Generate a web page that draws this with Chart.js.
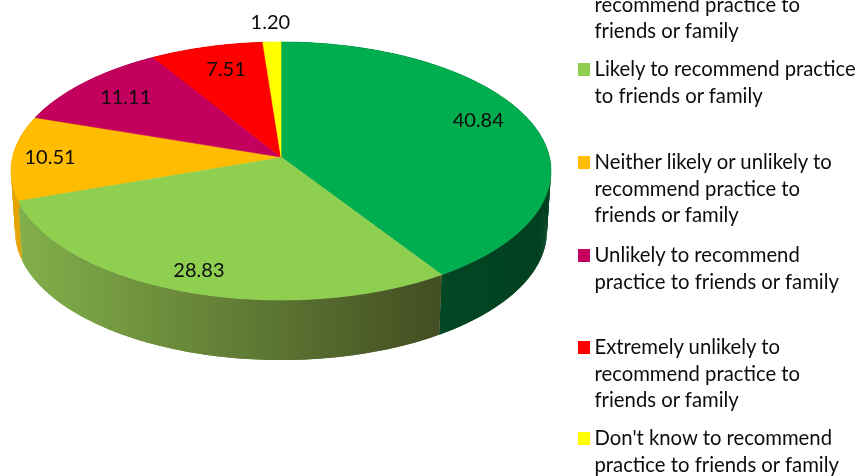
<!DOCTYPE html>
<html>
<head>
<meta charset="utf-8">
<script src="https://cdn.jsdelivr.net/npm/chart.js@4"></script>
<style>
html, body { margin: 0; padding: 0; background: #fff; overflow: hidden; }
#wrap { position: relative; width: 861px; height: 476px; overflow: hidden; }
#pie { position: absolute; left: 0; top: 0; }
.item { position: absolute; left: 594.5px; font: 20.3px/26.5px Lato, sans-serif; color: #0c0c0c; white-space: pre; }
.item i { position: absolute; left: -16.5px; top: 8px; width: 12px; height: 13px; }
</style>
</head>
<body>
<div id="wrap"><canvas id="pie" width="861" height="476"></canvas></div>
<script>
"use strict";

var categories = [
	"Extremely likely to\nrecommend practice to\nfriends or family",
	"Likely to recommend practice\nto friends or family",
	"Neither likely or unlikely to\nrecommend practice to\nfriends or family",
	"Unlikely to recommend\npractice to friends or family",
	"Extremely unlikely to\nrecommend practice to\nfriends or family",
	"Don't know to recommend\npractice to friends or family"
];
var values = [40.84, 28.83, 10.51, 11.11, 7.51, 1.20];
var sliceColors = ["#00AD4F", "#8FCF50", "#FFBC00", "#C4005F", "#FF0000", "#FFFF00"];
var sideColors = [["#01522c", "#01401f"], ["#82b04a", "#434d22"], ["#e6a400", "#d89a00"], ["#70003a", "#70003a"], ["#900000", "#900000"], ["#909000", "#909000"]];
var labelReach = [0.785, 0.86, 0.86, 0.78, 0.76, 1.19];
var labelNudge = [[0, -9], [0, 0], [0, 0], [0, 0], [3, -2], [0, 0]];
var legendTops = [-36, 55, 148, 241, 333, 424];

// excel tilts the pie so the apex is not the ellipse centre, canvas transforms cant do that
var KX = 268.4 / 270, KY = 127.5 / 270, TILT = -0.1085;
var DEPTH = 60, SHRINK = 0.985;

function project(el, angle, reach) {
	var u = Math.cos(angle) * reach, v = Math.sin(angle) * reach;
	var w = 1 + TILT * v;
	return { x: el.x + el.outerRadius * KX * u / w, y: el.y + el.outerRadius * KY * v / w };
}

function rim(el) {
	var pts = [];
	var n = Math.max(2, Math.ceil((el.endAngle - el.startAngle) / 0.01));
	for (var i = 0; i <= n; i++) {
		pts.push(project(el, el.startAngle + (el.endAngle - el.startAngle) * i / n, 1));
	}
	return pts;
}

var pie3d = {
	id: "pie3d",
	beforeDatasetDraw: function(chart, args) {
		var ctx = chart.ctx;
		var arcs = args.meta.data;
		// side walls first, the top faces cover the back part
		arcs.forEach(function(el, i) {
			var pts = rim(el);
			var xs = pts.map(function(p) { return p.x; });
			var grad = ctx.createLinearGradient(Math.min.apply(null, xs), 0, Math.max.apply(null, xs), 0);
			grad.addColorStop(0, sideColors[i][0]);
			grad.addColorStop(1, sideColors[i][1]);
			ctx.fillStyle = grad;
			// one quad per rim step, a single outline would lose the corner at the widest point
			for (var k = 0; k < pts.length - 1; k++) {
				var a = pts[k], b = pts[Math.min(k + 2, pts.length - 1)];
				ctx.beginPath();
				ctx.moveTo(a.x, a.y);
				ctx.lineTo(b.x, b.y);
				ctx.lineTo(el.x + (b.x - el.x) * SHRINK, b.y + DEPTH);
				ctx.lineTo(el.x + (a.x - el.x) * SHRINK, a.y + DEPTH);
				ctx.closePath();
				ctx.fill();
			}
		});
		arcs.forEach(function(el, i) {
			ctx.beginPath();
			ctx.moveTo(el.x, el.y);
			rim(el).forEach(function(p) { ctx.lineTo(p.x, p.y); });
			ctx.closePath();
			ctx.fillStyle = sliceColors[i];
			ctx.strokeStyle = sliceColors[i];
			ctx.lineWidth = 0.6;
			ctx.fill();
			ctx.stroke();
		});
		return false;
	},
	afterDatasetsDraw: function(chart) {
		var ctx = chart.ctx;
		ctx.save();
		ctx.font = "20px Lato, sans-serif";
		ctx.fillStyle = "#0c0c0c";
		ctx.textAlign = "center";
		ctx.textBaseline = "middle";
		chart.getDatasetMeta(0).data.forEach(function(el, i) {
			var p = project(el, (el.startAngle + el.endAngle) / 2, labelReach[i]);
			ctx.fillText(values[i].toFixed(2), p.x + labelNudge[i][0], p.y + labelNudge[i][1]);
		});
		ctx.restore();
	}
};

new Chart(document.getElementById("pie").getContext("2d"), {
	type: "pie",
	data: {
		labels: categories.map(function(c) { return c.replace(/\n/g, " "); }),
		datasets: [{ data: values, backgroundColor: sliceColors, borderWidth: 0, clip: false }]
	},
	options: {
		responsive: false,
		animation: false,
		events: [],
		radius: 270,
		layout: { padding: { left: 0, top: 0, right: 299, bottom: 162 } },
		plugins: { legend: { display: false }, tooltip: { enabled: false } }
	},
	plugins: [pie3d]
});

// legend wraps by hand like the original, top entry runs off the picture
var wrap = document.getElementById("wrap");
categories.forEach(function(text, i) {
	var item = document.createElement("div");
	item.className = "item";
	item.style.top = legendTops[i] + "px";
	item.textContent = text;
	var box = document.createElement("i");
	box.style.background = sliceColors[i];
	item.appendChild(box);
	wrap.appendChild(item);
});
</script>
</body>
</html>
